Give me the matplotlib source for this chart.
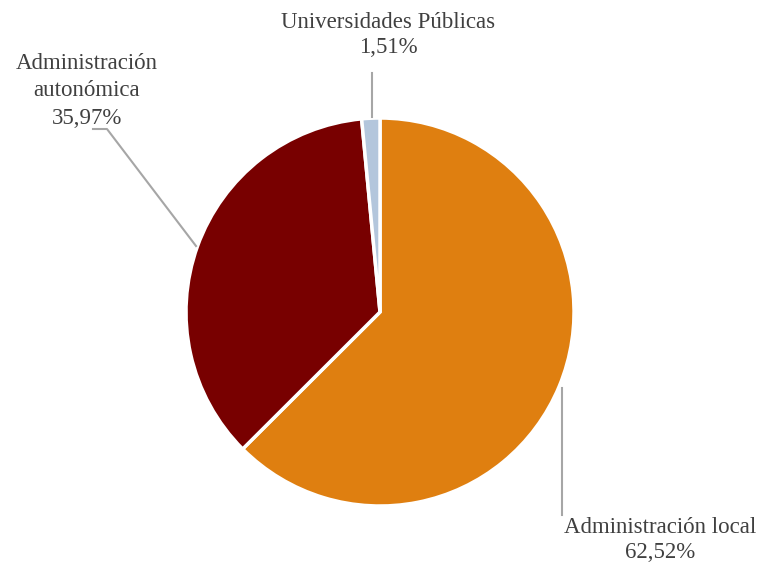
import matplotlib
matplotlib.use('Agg')
import matplotlib.pyplot as plt

labels = ["Administración local", "Administración autonómica", "Universidades Públicas"]
label_text = ["Administración local\n62,52%", "Administración\nautonómica\n35,97%", "Universidades Públicas\n1,51%"]
values = [62.52, 35.97, 1.51]
colors = ["#DF7F10", "#780000", "#B3C6DC"]

plt.rcParams['font.family'] = ['Liberation Serif', 'DejaVu Serif']

fig = plt.figure(figsize=(7.61, 5.68), dpi=100)
ax = fig.add_axes([0, 0, 1, 1])

H = 568
ax.pie(values, colors=colors, startangle=90, counterclock=False,
       center=(380, H - 312), radius=194, explode=[0.025, 0, 0],
       wedgeprops=dict(edgecolor='white', linewidth=2.5), frame=True)
ax.set_xlim(0, 761)
ax.set_ylim(0, 568)
ax.axis('off')

line_kw = dict(color='#A6A6A6', linewidth=1.5)
# leader lines
ax.plot([562, 562], [H - 388, H - 515], **line_kw)
ax.plot([93, 107, 196], [H - 129, H - 129, H - 246], **line_kw)
ax.plot([372, 372], [H - 73, H - 117], **line_kw)

txt_kw = dict(color='#404040', fontsize=16.5, ha='center', va='center')
ax.text(660, H - 540, label_text[0], linespacing=1.3, **txt_kw)
ax.text(87, H - 91, label_text[1], linespacing=1.42, **txt_kw)
ax.text(388, H - 35, label_text[2], linespacing=1.3, **txt_kw)

fig.savefig("out.png", dpi=100)
